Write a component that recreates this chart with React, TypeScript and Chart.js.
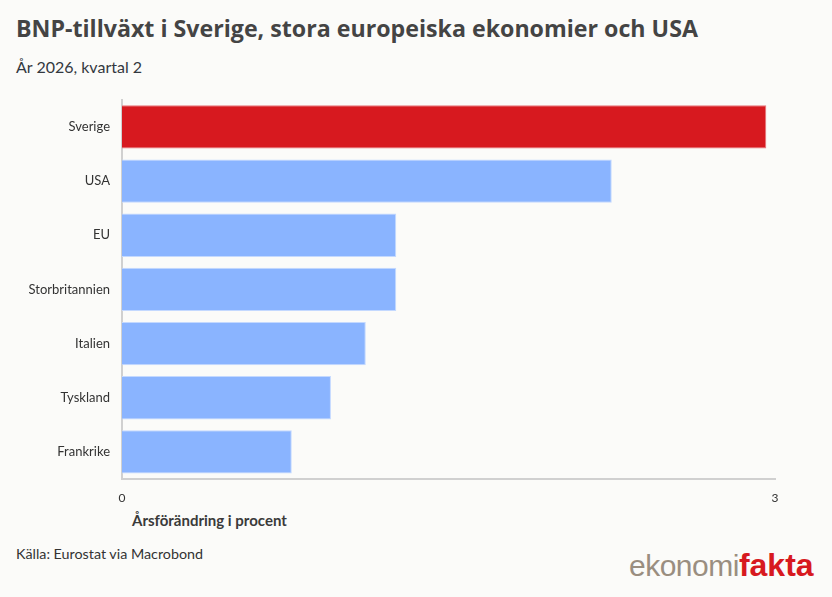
import React, { useEffect, useRef } from "react";
import { Chart, registerables } from "chart.js";

Chart.register(...registerables);

const categories = ["Sverige", "USA", "EU", "Storbritannien", "Italien", "Tyskland", "Frankrike"];
const growth = [2.96, 2.25, 1.26, 1.26, 1.12, 0.96, 0.78];
const barColors = ["#d7191f", "#8ab4ff", "#8ab4ff", "#8ab4ff", "#8ab4ff", "#8ab4ff", "#8ab4ff"];
const borderColors = ["#e8767a", "#c4d9ff", "#c4d9ff", "#c4d9ff", "#c4d9ff", "#c4d9ff", "#c4d9ff"];
const xMin = 0;
const xMax = 3;

const title = "BNP-tillväxt i Sverige, stora europeiska ekonomier och USA";
const subtitle = "År 2026, kvartal 2";
const axisTitle = "Årsförändring i procent";
const source = "Källa: Eurostat via Macrobond";

export default function App() {
  const ref = useRef<HTMLCanvasElement | null>(null);

  useEffect(() => {
    document.body.style.margin = "0";
    const canvas = ref.current;
    if (!canvas) return;
    const chart = new Chart(canvas, {
      type: "bar",
      data: {
        labels: categories,
        datasets: [
          {
            data: growth,
            backgroundColor: barColors,
            borderColor: borderColors,
            borderWidth: 1,
            barPercentage: 1,
            categoryPercentage: 0.8,
          },
        ],
      },
      options: {
        indexAxis: "y",
        animation: false,
        responsive: false,
        maintainAspectRatio: false,
        layout: { padding: { top: 2, right: 57, left: 0, bottom: 0 } },
        plugins: {
          legend: { display: false },
          tooltip: { enabled: false },
        },
        scales: {
          x: {
            min: xMin,
            max: xMax,
            grid: { display: false, drawTicks: false },
            border: { display: true, color: "#d0d0d0", width: 2 },
            ticks: {
              stepSize: 3,
              padding: 12,
              color: "#333333",
              font: { family: "Lato", size: 12 },
              maxRotation: 0,
            },
            afterFit: (s: any) => {
              s.height = 30;
            },
          },
          y: {
            grid: { display: false, drawTicks: false },
            border: { display: true, color: "#d0d0d0", width: 2 },
            ticks: {
              padding: 12,
              color: "#333333",
              font: { family: "Lato", size: 13 },
            },
            afterFit: (s: any) => {
              s.width = 122;
            },
          },
        },
      },
    });
    return () => chart.destroy();
  }, []);

  return (
    <div
      style={{
        position: "relative",
        width: 832,
        height: 597,
        background: "#fbfbf9",
        overflow: "hidden",
        fontFamily: "Lato, sans-serif",
      }}
    >
      <div
        style={{
          position: "absolute",
          left: 16,
          top: 12,
          fontFamily: "'Open Sans', sans-serif",
          fontSize: 23.2,
          fontWeight: 700,
          color: "#444444",
          whiteSpace: "nowrap",
        }}
      >
        {title}
      </div>
      <div
        style={{
          position: "absolute",
          left: 16,
          top: 57,
          fontSize: 16,
          color: "#333840",
          whiteSpace: "nowrap",
        }}
      >
        {subtitle}
      </div>
      <canvas
        ref={ref}
        width={832}
        height={429}
        style={{ position: "absolute", left: 0, top: 80, width: 832, height: 429 }}
      />
      <div
        style={{
          position: "absolute",
          left: 132,
          top: 511,
          fontSize: 15,
          fontWeight: 700,
          color: "#3a3a3a",
          whiteSpace: "nowrap",
        }}
      >
        {axisTitle}
      </div>
      <div
        style={{
          position: "absolute",
          left: 16,
          top: 545,
          fontSize: 14.3,
          color: "#333333",
          whiteSpace: "nowrap",
        }}
      >
        {source}
      </div>
      <div
        style={{
          position: "absolute",
          left: 629,
          top: 547,
          fontFamily: "'Liberation Sans', Arial, sans-serif",
          whiteSpace: "nowrap",
          lineHeight: "36px",
        }}
      >
        <span style={{ color: "#9a8e80", fontSize: 30, letterSpacing: -0.5 }}>ekonomi</span>
        <span style={{ color: "#d7191f", fontWeight: 700, fontSize: 32 }}>fakta</span>
      </div>
    </div>
  );
}
